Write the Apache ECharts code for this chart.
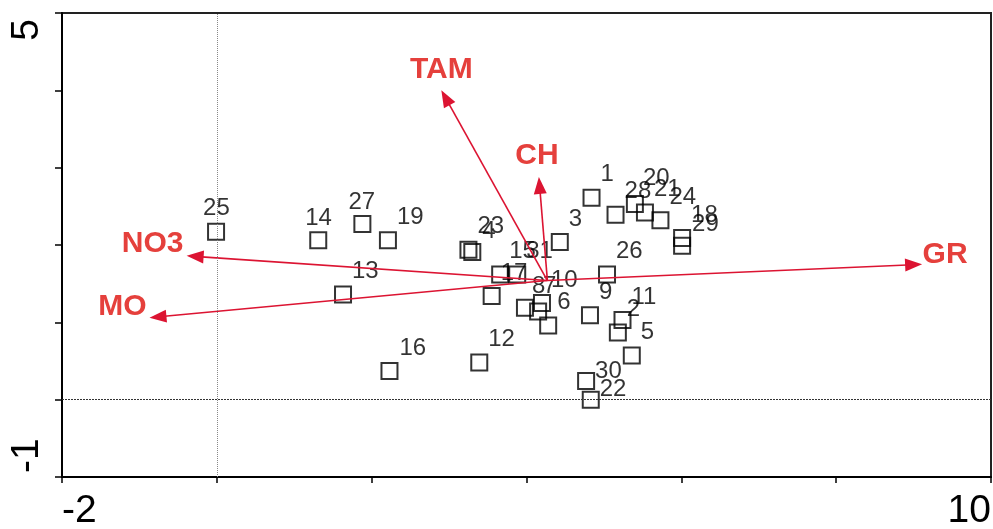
<!DOCTYPE html>
<html>
<head>
<meta charset="utf-8">
<script src="https://cdn.jsdelivr.net/npm/echarts@6/dist/echarts.min.js"></script>
<style>
  html, body { margin: 0; padding: 0; background: #fff; }
  #chart { width: 993px; height: 529px; }
</style>
</head>
<body>
<div id="chart"></div>
<script>
// Site scores on the first two ordination axes
const siteNames = ['1','2','3','4','5','6','7','8','9','10','11','12','13','14','15','16',
                   '17','18','19','20','21','22','23','24','25','26','27','28','29','30','31'];
const siteX = [4.84, 5.18, 4.43, 3.30, 5.36, 4.28, 4.15, 3.98, 4.82, 4.20, 5.24, 3.39, 1.63, 1.31, 3.66, 2.23,
               3.55, 6.01, 2.21, 5.40, 5.53, 4.83, 3.25, 5.73, -0.01, 5.04, 1.88, 5.15, 6.01, 4.77, 3.88];
const siteY = [2.61, 0.87, 2.04, 1.91, 0.57, 0.96, 1.14, 1.19, 1.09, 1.25, 1.03, 0.48, 1.36, 2.06, 1.62, 0.37,
               1.34, 2.09, 2.06, 2.53, 2.42, 0.00, 1.94, 2.32, 2.17, 1.62, 2.27, 2.39, 1.99, 0.24, 1.62];

// Environmental variables: arrow tips, all drawn from a common origin
const envNames = ['TAM', 'CH', 'GR', 'NO3', 'MO'];
const envX = [2.90, 4.16, 9.11, -0.39, -0.87];
const envY = [4.00, 2.88, 1.75, 1.86, 1.06];
const arrowOrigin = [4.27, 1.54];

// Axis ranges and the tick values that carry a label
const xRange = [-2, 10];
const yRange = [-1, 5];
const xLabelled = [-2, 10];
const yLabelled = [-1, 5];

// Label placement (pixels, relative to the mark) and colours
const siteLabelDefault = [9, -23];
const siteLabelShift = {
  '25': [-13, -23], '14': [-13, -22], '27': [-14, -22], '7': [5, -25], '20': [8, -26],
  '30': [9, -10], '22': [9, -10], '29': [10, -21], '4': [10, -21], '8': [7, -21], '16': [10, -23]
};
const envLabelShift = [[0, -21], [-2, -21], [23, -10], [-34, -12], [-27, -11]];
const arrowColor = '#dc1432';
const envLabelColor = '#e5403c';
const FONT = '"Liberation Sans", Arial, sans-serif';

const siteData = siteNames.map((n, i) => ({
  name: n,
  value: [siteX[i], siteY[i]],
  label: { offset: siteLabelShift[n] || siteLabelDefault }
}));

const arrowData = envNames.map((n, i) => [arrowOrigin[0], arrowOrigin[1], envX[i], envY[i]]);

function renderArrow(params, api) {
  const o = api.coord([api.value(0), api.value(1)]);
  const t = api.coord([api.value(2), api.value(3)]);
  const dx = t[0] - o[0], dy = t[1] - o[1];
  const len = Math.hypot(dx, dy);
  const ux = dx / len, uy = dy / len;
  const headL = 17, headW = 6.5;
  const bx = t[0] - ux * headL, by = t[1] - uy * headL;
  const nx = -uy, ny = ux;
  const sh = envLabelShift[params.dataIndex];
  return {
    type: 'group',
    children: [
      { type: 'line', shape: { x1: o[0], y1: o[1], x2: bx + ux * 2, y2: by + uy * 2 },
        style: { stroke: arrowColor, lineWidth: 1.6 } },
      { type: 'polygon',
        shape: { points: [[t[0], t[1]], [bx + nx * headW, by + ny * headW], [bx - nx * headW, by - ny * headW]] },
        style: { fill: arrowColor } },
      { type: 'text', x: t[0] + sh[0], y: t[1] + sh[1],
        style: { text: envNames[params.dataIndex], fill: envLabelColor, fontSize: 30, fontWeight: 'bold',
                 fontFamily: FONT, align: 'center', verticalAlign: 'middle' } }
    ]
  };
}

const chart = echarts.init(document.getElementById('chart'));
chart.setOption({
  animation: false,
  backgroundColor: '#fff',
  grid: {
    left: 62, right: 2, top: 13, bottom: 52,
    outerBoundsMode: 'none', containLabel: false,
    show: true, borderColor: '#222', borderWidth: 2
  },
  xAxis: {
    type: 'value', min: xRange[0], max: xRange[1], interval: 2,
    axisLine: { show: true, onZero: false, lineStyle: { color: '#000', width: 2 } },
    axisTick: { show: true, length: 6, lineStyle: { color: '#000', width: 1.5 } },
    splitLine: { show: false },
    axisLabel: {
      formatter: v => xLabelled.includes(v) ? String(v) : '',
      showMinLabel: true, showMaxLabel: true,
      alignMinLabel: 'left', alignMaxLabel: 'right',
      fontSize: 39, fontFamily: FONT, color: '#000', margin: 15
    }
  },
  yAxis: {
    type: 'value', min: yRange[0], max: yRange[1], interval: 1,
    axisLine: { show: true, onZero: false, lineStyle: { color: '#000', width: 2 } },
    axisTick: { show: true, length: 7, lineStyle: { color: '#000', width: 1.5 } },
    splitLine: { show: false },
    axisLabel: {
      formatter: v => yLabelled.includes(v) ? String(v) : '',
      showMinLabel: true, showMaxLabel: true,
      rotate: 90,
      alignMinLabel: 'left', alignMaxLabel: 'right',
      padding: [0, 6, 0, 4],
      fontSize: 39, fontFamily: FONT, color: '#000', margin: 15
    }
  },
  series: [
    {
      type: 'scatter',
      z: 2,
      symbol: 'rect',
      symbolSize: 16,
      itemStyle: { color: 'rgba(255,255,255,0)', borderColor: '#000', borderWidth: 2 },
      label: {
        show: true, position: 'inside', align: 'left', verticalAlign: 'middle',
        formatter: p => p.name, fontSize: 24, fontFamily: FONT, color: '#000'
      },
      emphasis: { disabled: true },
      data: siteData,
      markLine: {
        silent: true, symbol: 'none', label: { show: false }, animation: false,
        data: [
          { xAxis: 0, lineStyle: { color: '#888', width: 1, type: 'dotted' } },
          { yAxis: 0, lineStyle: { color: '#333', width: 1, type: [2, 1] } }
        ]
      }
    },
    {
      type: 'custom',
      z: 3,
      renderItem: renderArrow,
      encode: { x: [0, 2], y: [1, 3] },
      silent: true,
      data: arrowData
    }
  ]
});
</script>
</body>
</html>
